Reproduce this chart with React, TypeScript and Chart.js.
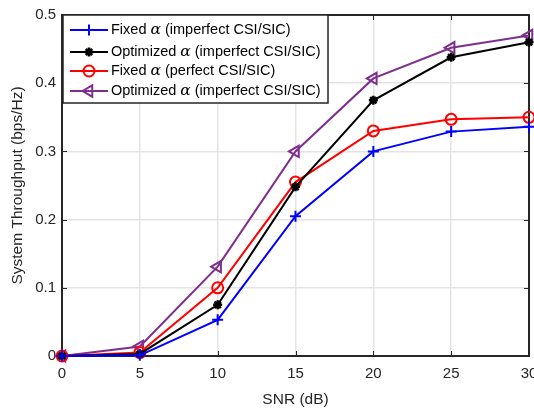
import React, { useEffect, useRef } from "react";
import { Chart, registerables } from "chart.js";

Chart.register(...registerables);

const snr = [0, 5, 10, 15, 20, 25, 30];
const fixedImperfect = [0, 0.001, 0.053, 0.205, 0.3, 0.329, 0.336];
const optImperfect = [0, 0.003, 0.075, 0.248, 0.375, 0.438, 0.46];
const fixedPerfect = [0, 0.005, 0.1, 0.255, 0.33, 0.347, 0.35];
const optImperfect2 = [0, 0.014, 0.131, 0.3, 0.407, 0.452, 0.47];
const yTicks = [0, 0.1, 0.2, 0.3, 0.4, 0.5];
const xTicks = [0, 5, 10, 15, 20, 25, 30];
const legendLabels = [
  ["Fixed ", "α", " (imperfect CSI/SIC)"],
  ["Optimized ", "α", " (imperfect CSI/SIC)"],
  ["Fixed ", "α", " (perfect CSI/SIC)"],
  ["Optimized ", "α", " (imperfect CSI/SIC)"],
];

const FONT = "Liberation Sans, Arial, sans-serif";

function drawPoint(ctx: CanvasRenderingContext2D, ds: any, x: number, y: number) {
  ctx.save();
  ctx.strokeStyle = ds.borderColor;
  ctx.lineWidth = ds.pointBorderWidth || 2;
  const r = ds.pointRadius;
  const st = ds.pointStyle;
  ctx.beginPath();
  if (st === "cross") {
    ctx.moveTo(x - r, y);
    ctx.lineTo(x + r, y);
    ctx.moveTo(x, y - r);
    ctx.lineTo(x, y + r);
    ctx.stroke();
  } else if (st === "star") {
    for (let k = 0; k < 4; k++) {
      const ang = (k * Math.PI) / 4;
      ctx.moveTo(x - r * Math.cos(ang), y - r * Math.sin(ang));
      ctx.lineTo(x + r * Math.cos(ang), y + r * Math.sin(ang));
    }
    ctx.stroke();
  } else if (st === "circle") {
    ctx.arc(x, y, r, 0, Math.PI * 2);
    ctx.stroke();
  } else if (st === "triangle") {
    ctx.moveTo(x - r, y);
    ctx.lineTo(x + r * 0.5, y - r * 0.87);
    ctx.lineTo(x + r * 0.5, y + r * 0.87);
    ctx.closePath();
    ctx.stroke();
  }
  ctx.restore();
}

const boxPlugin = {
  id: "boxPlugin",
  beforeDatasetsDraw(chart: any) {
    const { ctx, chartArea: a, scales } = chart;
    ctx.save();
    ctx.strokeStyle = "#262626";
    ctx.lineWidth = 1;
    const tl = 5;
    xTicks.forEach((v) => {
      const x = Math.round(scales.x.getPixelForValue(v)) + 0.5;
      ctx.beginPath();
      ctx.moveTo(x, a.bottom);
      ctx.lineTo(x, a.bottom - tl);
      ctx.moveTo(x, a.top);
      ctx.lineTo(x, a.top + tl);
      ctx.stroke();
    });
    yTicks.forEach((v) => {
      const y = Math.round(scales.y.getPixelForValue(v)) + 0.5;
      ctx.beginPath();
      ctx.moveTo(a.left, y);
      ctx.lineTo(a.left + tl, y);
      ctx.moveTo(a.right, y);
      ctx.lineTo(a.right - tl, y);
      ctx.stroke();
    });
    ctx.lineWidth = 2;
    ctx.strokeRect(a.left, a.top, a.right - a.left, a.bottom - a.top);
    ctx.restore();
  },
  afterDatasetsDraw(chart: any) {
    const { ctx, chartArea: a } = chart;
    ctx.save();
    const lx = a.left + 1;
    const ly = a.top;
    const lw = 265;
    const lh = 88;
    ctx.fillStyle = "#ffffff";
    ctx.fillRect(lx, ly, lw, lh);
    ctx.lineWidth = 1.5;
    ctx.strokeStyle = "#262626";
    ctx.strokeRect(lx, ly, lw, lh);
    const rowY = [15, 37, 56, 76];
    chart.data.datasets.forEach((ds: any, i: number) => {
      const y = ly + rowY[i];
      ctx.strokeStyle = ds.borderColor;
      ctx.lineWidth = 2;
      ctx.beginPath();
      ctx.moveTo(lx + 7, y);
      ctx.lineTo(lx + 45, y);
      ctx.stroke();
      drawPoint(ctx, ds, lx + 26, y);
      ctx.fillStyle = "#000";
      ctx.textBaseline = "middle";
      let x = lx + 48;
      legendLabels[i].forEach((p, k) => {
        ctx.font = k === 1 ? "italic 15.5px 'DejaVu Serif', serif" : `14.5px ${FONT}`;
        ctx.fillText(p, x, y);
        x += ctx.measureText(p).width;
      });
    });
    ctx.restore();
  },
};

export default function App() {
  const ref = useRef<HTMLCanvasElement | null>(null);
  useEffect(() => {
    if (!ref.current) return;
    const mk = (d: number[]) => snr.map((x, i) => ({ x, y: d[i] }));
    const chart = new Chart(ref.current, {
      type: "line",
      data: {
        datasets: [
          {
            label: "Fixed α (imperfect CSI/SIC)",
            data: mk(fixedImperfect),
            borderColor: "#0000ff",
            pointStyle: "cross",
            pointRadius: 5.5,
            pointBorderWidth: 2,
            borderWidth: 2,
            backgroundColor: "rgba(0,0,0,0)",
            clip: false,
          },
          {
            label: "Optimized α (imperfect CSI/SIC)",
            data: mk(optImperfect),
            borderColor: "#000000",
            pointStyle: "star",
            pointRadius: 4.5,
            pointBorderWidth: 2.5,
            borderWidth: 2,
            backgroundColor: "rgba(0,0,0,0)",
            clip: false,
          },
          {
            label: "Fixed α (perfect CSI/SIC)",
            data: mk(fixedPerfect),
            borderColor: "#ff0000",
            pointStyle: "circle",
            pointRadius: 5.5,
            pointBorderWidth: 2,
            borderWidth: 2,
            backgroundColor: "rgba(0,0,0,0)",
            clip: false,
          },
          {
            label: "Optimized α (imperfect CSI/SIC)",
            data: mk(optImperfect2),
            borderColor: "#7e2f8e",
            pointStyle: "triangle",
            rotation: -90,
            pointRadius: 6.5,
            pointBorderWidth: 2,
            borderWidth: 2,
            backgroundColor: "rgba(0,0,0,0)",
            clip: false,
          } as any,
        ],
      },
      options: {
        animation: false,
        responsive: false,
        maintainAspectRatio: false,
        layout: { autoPadding: false, padding: { top: 15, right: 5, left: 0, bottom: 0 } },
        plugins: { legend: { display: false }, tooltip: { enabled: false } },
        scales: {
          x: {
            type: "linear",
            min: 0,
            max: 30,
            afterFit: (s: any) => {
              s.height = 53;
              s.paddingLeft = 0;
              s.paddingRight = 0;
            },
            afterBuildTicks: (s: any) => {
              s.ticks = xTicks.map((v) => ({ value: v }));
            },
            grid: { color: "#e3e3e3", lineWidth: 1.5, drawTicks: false },
            border: { display: false },
            ticks: {
              color: "#262626",
              font: { family: FONT, size: 15 },
              padding: 9,
              maxRotation: 0,
            },
            title: {
              display: true,
              text: "SNR (dB)",
              color: "#262626",
              font: { family: FONT, size: 15.5 },
              padding: { top: 0, bottom: 0 },
            },
          },
          y: {
            type: "linear",
            min: 0,
            max: 0.5,
            afterFit: (s: any) => {
              s.width = 62;
              s.paddingTop = 0;
              s.paddingBottom = 0;
            },
            afterBuildTicks: (s: any) => {
              s.ticks = yTicks.map((v) => ({ value: v }));
            },
            grid: { color: "#e3e3e3", lineWidth: 1.5, drawTicks: false },
            border: { display: false },
            ticks: {
              color: "#262626",
              font: { family: FONT, size: 15 },
              padding: 6,
              callback: (v: any) => String(Number(v)),
            },
            title: {
              display: true,
              text: "System Throughput (bps/Hz)",
              color: "#262626",
              font: { family: FONT, size: 15.5 },
              padding: { top: 8, bottom: 0 },
            },
          },
        },
      },
      plugins: [boxPlugin],
    });
    return () => chart.destroy();
  }, []);
  return (
    <div style={{ position: "fixed", left: 0, top: 0, width: 534, height: 409, background: "#fff" }}>
      <canvas ref={ref} width={534} height={409} style={{ width: 534, height: 409 }} />
    </div>
  );
}
